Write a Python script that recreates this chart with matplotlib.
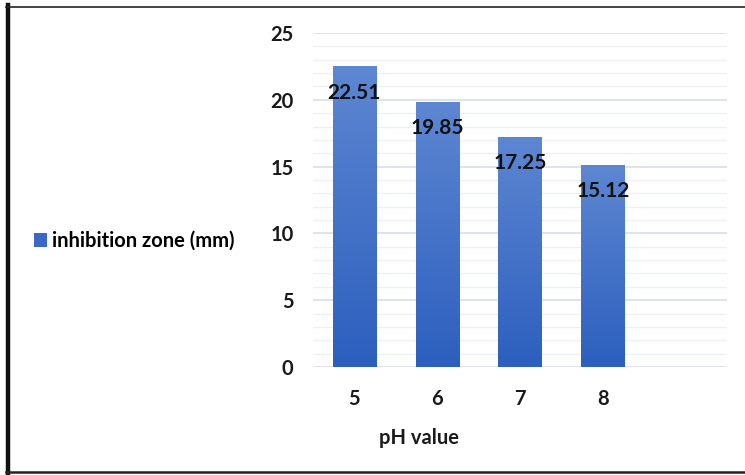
import matplotlib.pyplot as plt
import numpy as np
from matplotlib.lines import Line2D
from matplotlib.patches import Patch
from matplotlib.colors import LinearSegmentedColormap

# data
ph_values = ["5", "6", "7", "8", ""]
zone_mm = [22.51, 19.85, 17.25, 15.12, 0]
value_labels = ["22.51", "19.85", "17.25", "15.12"]

plt.rcParams['font.family'] = ['Lato', 'DejaVu Sans']
plt.rcParams['font.weight'] = 'bold'

fig = plt.figure(figsize=(7.45, 4.75), dpi=100)
ax = fig.add_axes([0.420, 0.2274, 0.556, 0.7031])

x = np.arange(len(ph_values))
bars = ax.bar(x[:4], zone_mm[:4], width=0.52, color="#3E6CC6",
              label="inhibition zone (mm)", zorder=3)

# vertical gradient inside each bar
grad_cmap = LinearSegmentedColormap.from_list("g", ["#2C5FBE", "#5E87D2"])
grad = np.linspace(0, 1, 256).reshape(-1, 1)
for b in bars:
    b.set_facecolor("none")
    b.set_edgecolor("none")
    x0, y0 = b.get_x(), b.get_y()
    w, h = b.get_width(), b.get_height()
    im = ax.imshow(grad, cmap=grad_cmap, origin="lower", aspect="auto",
                   extent=[x0, x0 + w, y0, y0 + h], zorder=3)
    im.set_clip_path(b)

ax.set_xlim(-0.5, len(ph_values) - 0.5)
ax.set_ylim(0, 25)
ax.set_xticks(x)
ax.set_xticklabels(ph_values)
ax.set_yticks(range(0, 26, 5))
ax.set_yticks(range(0, 26, 1), minor=True)
ax.grid(axis="y", which="major", color="#D9DEE7", linewidth=1.2, zorder=0)
ax.grid(axis="y", which="minor", color="#EEF0F4", linewidth=1.0, zorder=0)
ax.tick_params(axis="both", which="both", length=0, labelsize=14.5,
               labelcolor="#1A1A1A")
ax.tick_params(axis="y", pad=14)
ax.tick_params(axis="x", pad=16)
for s in ax.spines.values():
    s.set_visible(False)

for b, lab in zip(bars, value_labels):
    ax.annotate(lab, (b.get_x() + b.get_width() / 2, b.get_height()),
                xytext=(0, -19), textcoords="offset points",
                ha="center", va="center", fontsize=15, fontweight="bold",
                color="#111111", zorder=5)

fig.text(419 / 745, 1 - 438 / 475, "pH value", ha="center", va="center",
         fontsize=14.5, fontweight="bold", color="#1A1A1A")

fig.legend(handles=[Patch(facecolor="#3A68C4", label="inhibition zone (mm)")],
           loc="center left", bbox_to_anchor=(0.027, 1 - 241 / 475),
           frameon=False, handlelength=0.65, handleheight=0.65,
           handletextpad=0.25, borderpad=0.2,
           prop={"size": 14.5, "weight": "bold"})

# frame lines around the figure
fig.add_artist(Line2D([8 / 745, 8 / 745], [1 - 5 / 475, 1 - 473 / 475],
                      color="#111111", linewidth=3.2))
fig.add_artist(Line2D([6 / 745, 1], [1 - 6.5 / 475, 1 - 6.5 / 475],
                      color="#222222", linewidth=1.2))
fig.add_artist(Line2D([6 / 745, 1], [1 - 472 / 475, 1 - 472 / 475],
                      color="#222222", linewidth=1.8))

fig.savefig("out.png", dpi=100)
